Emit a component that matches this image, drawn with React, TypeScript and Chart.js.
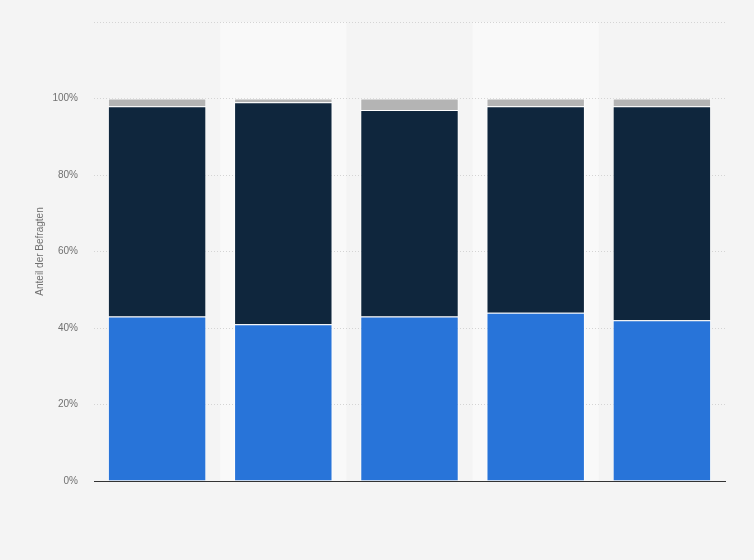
import React, { useEffect, useRef } from "react";
import { Chart, registerables } from "chart.js";

Chart.register(...registerables);

const categories = ["Gruppe 1", "Gruppe 2", "Gruppe 3", "Gruppe 4", "Gruppe 5"];
const seriesA = [43, 41, 43, 44, 42];
const seriesB = [55, 58, 54, 54, 56];
const seriesC = [2, 1, 3, 2, 2];
const seriesNames = ["Ja", "Nein", "Weiß nicht"];
const yTicks = [0, 20, 40, 60, 80, 100, 120];

const bandPlugin = {
  id: "bands",
  beforeDraw(chart: any) {
    const { ctx, chartArea, scales } = chart;
    ctx.save();
    ctx.fillStyle = "#f4f4f4";
    ctx.fillRect(0, 0, chart.width, chart.height);
    const x = scales.x;
    const n = categories.length;
    const w = (chartArea.right - chartArea.left) / n;
    ctx.fillStyle = "#f9f9f9";
    for (let i = 1; i < n; i += 2) {
      const cx = x.getPixelForValue(i);
      ctx.fillRect(cx - w / 2, chartArea.top, w, chartArea.bottom - chartArea.top);
    }
    ctx.restore();
  },
};

export default function App() {
  const ref = useRef<HTMLCanvasElement>(null);
  useEffect(() => {
    document.body.style.margin = "0";
    const chart = new Chart(ref.current!, {
      type: "bar",
      data: {
        labels: categories,
        datasets: [
          { label: seriesNames[0], data: seriesA, backgroundColor: "#2874d9", borderColor: "rgba(255,255,255,0.8)", borderWidth: 1 },
          { label: seriesNames[1], data: seriesB, backgroundColor: "#0f263d", borderColor: "rgba(255,255,255,0.8)", borderWidth: 1 },
          { label: seriesNames[2], data: seriesC, backgroundColor: "#b4b4b4", borderColor: "rgba(255,255,255,0.8)", borderWidth: 1 },
        ],
      },
      options: {
        animation: false,
        responsive: false,
        maintainAspectRatio: false,
        layout: { padding: { left: 34, right: 29, top: 16, bottom: 71 } },
        datasets: { bar: { categoryPercentage: 1, barPercentage: 0.78 } },
        plugins: { legend: { display: false }, tooltip: { enabled: false } },
        scales: {
          x: {
            stacked: true,
            grid: { display: false },
            border: { display: true, color: "#333333", width: 1 },
            ticks: { display: false },
          },
          y: {
            stacked: true,
            min: 0,
            max: 120,
            afterBuildTicks(scale: any) {
              scale.ticks = yTicks.map((v) => ({ value: v }));
            },
            afterFit(scale: any) {
              scale.width = 94 - 34;
            },
            border: { display: false, dash: [1, 2] },
            grid: { color: "#d4d4d4", drawTicks: false },
            ticks: {
              padding: 16,
              color: "#707070",
              font: { family: "Liberation Sans, Arial, sans-serif", size: 10 },
              callback: (v: any) => (v === 120 ? "" : v + "%"),
            },
            title: {
              display: true,
              text: "Anteil der Befragten",
              color: "#707070",
              font: { family: "Liberation Sans, Arial, sans-serif", size: 10 },
              padding: { top: 0, bottom: 0 },
            },
          },
        },
      } as any,
      plugins: [bandPlugin],
    });
    return () => chart.destroy();
  }, []);
  return <canvas ref={ref} width={754} height={560} style={{ display: "block", width: 754, height: 560 }} />;
}
